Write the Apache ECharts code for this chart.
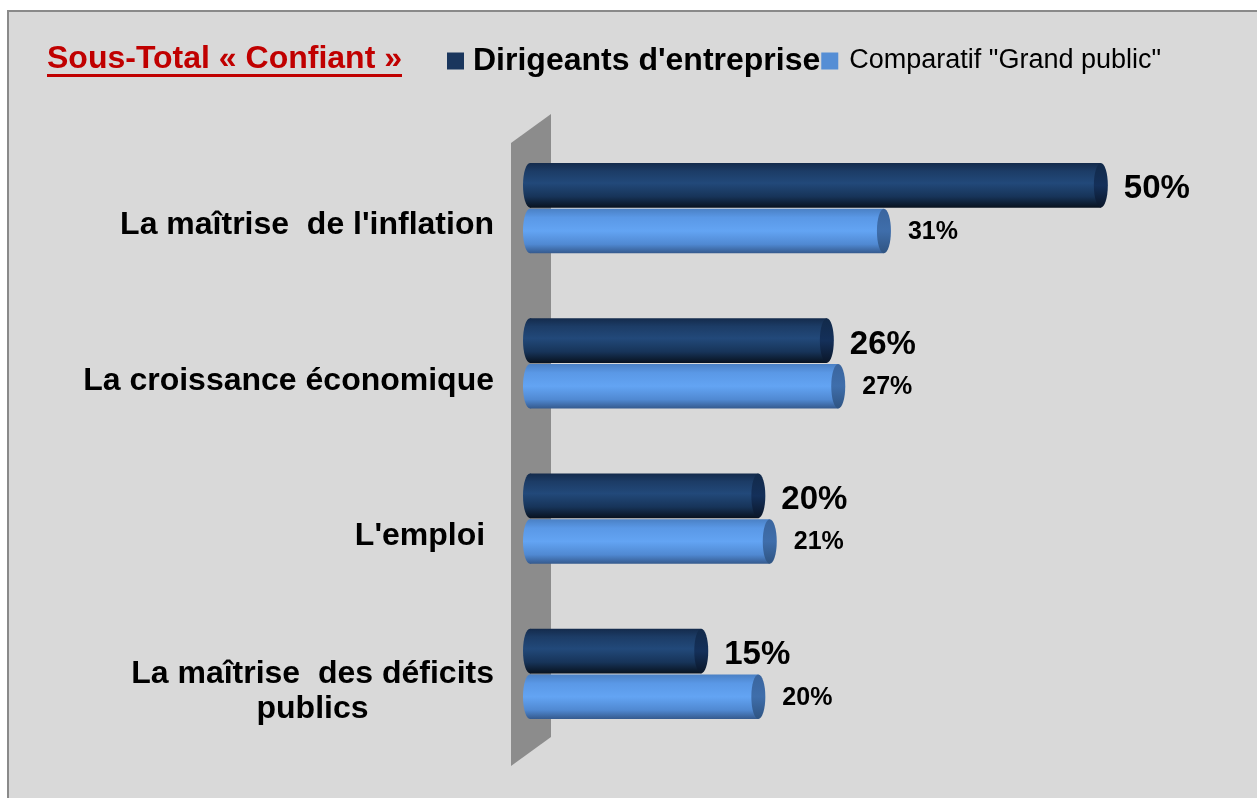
<!DOCTYPE html>
<html>
<head>
<meta charset="utf-8">
<script src="https://cdn.jsdelivr.net/npm/echarts@6/dist/echarts.min.js"></script>
<style>
html,body{margin:0;padding:0;background:#ffffff;}
#chart{width:1257px;height:798px;}
</style>
</head>
<body>
<div id="chart"></div>
<script>
// ---- data ----
const categories = ["La maîtrise  de l'inflation", "La croissance économique", "L'emploi ", "La maîtrise  des déficits\npublics"];
const dirigeants = [50, 26, 20, 15];
const grandPublic = [31, 27, 21, 20];
const seriesNames = ["Dirigeants d'entreprise", 'Comparatif "Grand public"'];
const titleText = 'Sous-Total « Confiant »';

const FONT = '"Liberation Sans", Arial, sans-serif';
const CAT_SIZE = 32;

// measure first line of multi-line labels so the next lines can be centred under it
const mctx = document.createElement('canvas').getContext('2d');
mctx.font = 'bold ' + CAT_SIZE + 'px ' + FONT;
function catFormatter(val) {
  const lines = val.split('\n');
  if (lines.length === 1) return '{a|' + val + '}';
  return '{a|' + lines[0] + '}\n' + lines.slice(1).map(l => '{b|' + l + '}').join('\n');
}

const styles = [
  { // dark
    body: new echarts.graphic.LinearGradient(0, 0, 0, 1, [
      {offset: 0, color: '#142b4c'}, {offset: 0.18, color: '#1c3c66'},
      {offset: 0.45, color: '#22497a'}, {offset: 0.75, color: '#173459'},
      {offset: 1, color: '#08121f'}]),
    cap: new echarts.graphic.LinearGradient(0, 0, 0, 1, [
      {offset: 0, color: '#122a4a'}, {offset: 0.5, color: '#14305a'}, {offset: 1, color: '#0a1628'}]),
    labelSize: 33, dy: 4, dx: 16
  },
  { // light
    body: new echarts.graphic.LinearGradient(0, 0, 0, 1, [
      {offset: 0, color: '#4a80c4'}, {offset: 0.2, color: '#5a98e6'},
      {offset: 0.5, color: '#63a4f3'}, {offset: 0.8, color: '#5089d2'},
      {offset: 1, color: '#355a8e'}]),
    cap: new echarts.graphic.LinearGradient(0, 0, 0, 1, [
      {offset: 0, color: '#3a659e'}, {offset: 0.5, color: '#3f6eab'}, {offset: 1, color: '#2f5482'}]),
    labelSize: 25, dy: 1, dx: 17
  }
];

function makeRender(which) {
  const st = styles[which];
  return function (params, api) {
    const cat = api.value(0);
    const v = api.value(1);
    const p0 = api.coord([0, cat]);
    const p1 = api.coord([v, cat]);
    const band = api.size([0, 1])[1];
    const h = band * 0.287;
    const y = which === 0 ? p0[1] - h : p0[1] + 1;
    const rx = 7;
    const xl = p0[0];
    const xr = p1[0];
    return {
      type: 'group',
      children: [
        {type: 'ellipse', shape: {cx: xl, cy: y + h / 2, rx: rx, ry: h / 2}, style: {fill: st.body}},
        {type: 'rect', shape: {x: xl, y: y, width: xr - xl, height: h}, style: {fill: st.body}},
        {type: 'ellipse', shape: {cx: xr, cy: y + h / 2, rx: rx, ry: h / 2}, style: {fill: st.cap}},
        {type: 'text', style: {
          text: v + '%', x: xr + rx + st.dx, y: y + h / 2 + st.dy,
          fill: '#000', font: 'bold ' + st.labelSize + 'px ' + FONT,
          verticalAlign: 'middle', align: 'left'}}
      ]
    };
  };
}

const chart = echarts.init(document.getElementById('chart'));
const l1w = Math.ceil(mctx.measureText("La maîtrise  des déficits").width);

chart.setOption({
  backgroundColor: '#ffffff',
  animation: false,
  title: {
    text: titleText, left: 47, top: 43, padding: 0,
    textStyle: {color: '#c00000', fontSize: 32, fontWeight: 'bold', fontFamily: FONT}
  },
  legend: {
    left: 442, top: 40, itemGap: 1, itemWidth: 17, itemHeight: 17,
    icon: 'rect',
    data: [
      {name: seriesNames[0], textStyle: {fontSize: 32, fontWeight: 'bold', color: '#000', fontFamily: FONT, padding: [0, 0, 0, 4]}},
      {name: seriesNames[1], textStyle: {fontSize: 27, fontWeight: 'normal', color: '#000', fontFamily: FONT, padding: [0, 0, 0, 6]}}
    ]
  },
  grid: {left: 530, right: 42, top: 130, bottom: 47, containLabel: false},
  xAxis: {
    type: 'value', min: 0, max: 60, show: false
  },
  yAxis: {
    type: 'category', data: categories, inverse: true,
    axisLine: {show: false}, axisTick: {show: false}, splitLine: {show: false},
    axisLabel: {
      margin: 36, align: 'right', verticalAlign: 'middle',
      padding: [36, 0, 0, 0],
      formatter: catFormatter,
      rich: {
        a: {fontSize: CAT_SIZE, fontWeight: 'bold', color: '#000', fontFamily: FONT, lineHeight: 35},
        b: {fontSize: CAT_SIZE, fontWeight: 'bold', color: '#000', fontFamily: FONT, lineHeight: 35, width: l1w, align: 'center'}
      }
    }
  },
  graphic: [
    {type: 'rect', z: 0, silent: true, shape: {x: 8, y: 11, width: 1300, height: 900},
      style: {fill: '#d9d9d9', stroke: '#8a8a8a', lineWidth: 2}},
    {type: 'polygon', z: 1, silent: true,
      shape: {points: [[511, 143], [551, 114], [551, 737], [511, 766]]},
      style: {fill: '#8c8c8c'}},
    {type: 'rect', z: 1, silent: true, shape: {x: 47, y: 74, width: 355, height: 3},
      style: {fill: '#c00000'}}
  ],
  series: [
    {
      name: seriesNames[0], type: 'custom', z: 5,
      itemStyle: {color: '#1a365d'},
      encode: {x: 1, y: 0},
      data: dirigeants.map((v, i) => [i, v]),
      renderItem: makeRender(0)
    },
    {
      name: seriesNames[1], type: 'custom', z: 4,
      itemStyle: {color: '#558ed5'},
      encode: {x: 1, y: 0},
      data: grandPublic.map((v, i) => [i, v]),
      renderItem: makeRender(1)
    }
  ]
});
</script>
</body>
</html>
